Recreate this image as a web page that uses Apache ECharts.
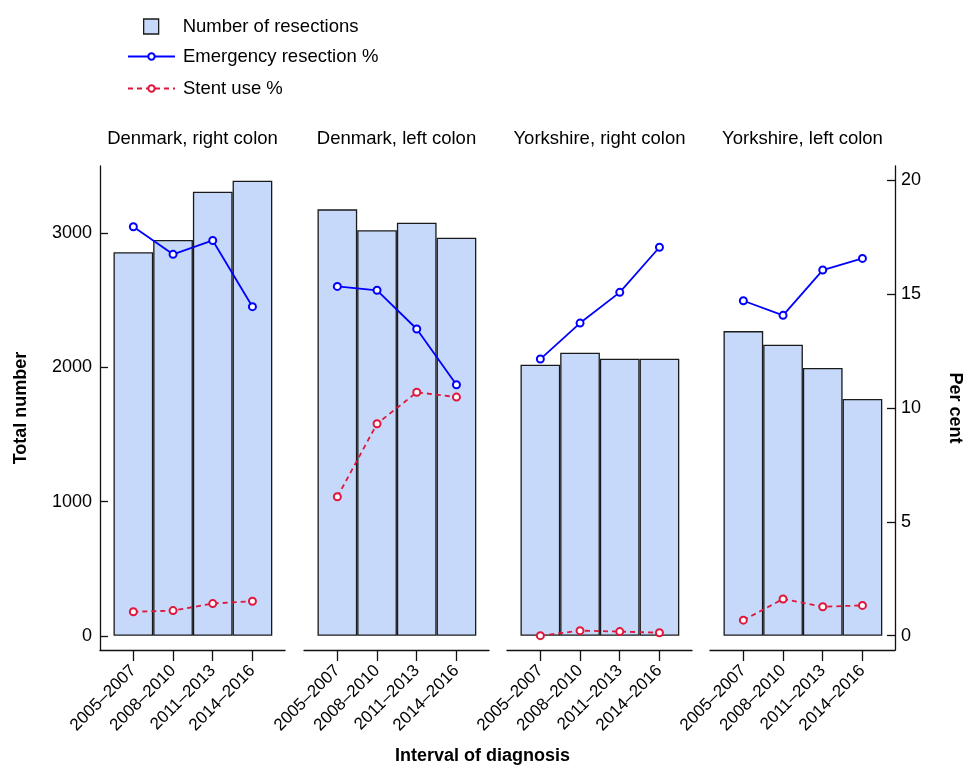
<!DOCTYPE html>
<html>
<head>
<meta charset="utf-8">
<script src="https://cdn.jsdelivr.net/npm/echarts@6/dist/echarts.min.js"></script>
<style>
html,body{margin:0;padding:0;background:#fff;}
#chart{width:965px;height:769px;}
</style>
</head>
<body>
<div id="chart"></div>
<script>
// ---- data ----
const intervals = ['2005–2007', '2008–2010', '2011–2013', '2014–2016'];
const panelTitles = ['Denmark, right colon', 'Denmark, left colon', 'Yorkshire, right colon', 'Yorkshire, left colon'];
const resectionsDenmarkRight = [2857, 2949, 3309, 3391];
const resectionsDenmarkLeft = [3177, 3021, 3077, 2966];
const resectionsYorkshireRight = [2019, 2109, 2064, 2064];
const resectionsYorkshireLeft = [2270, 2168, 1995, 1764];
const emergencyDenmarkRight = [17.96, 16.75, 17.36, 14.45];
const emergencyDenmarkLeft = [15.34, 15.17, 13.47, 11.02];
const emergencyYorkshireRight = [12.15, 13.73, 15.08, 17.06];
const emergencyYorkshireLeft = [14.71, 14.07, 16.06, 16.57];
const stentDenmarkRight = [1.05, 1.10, 1.41, 1.51];
const stentDenmarkLeft = [6.10, 9.31, 10.69, 10.48];
const stentYorkshireRight = [0.00, 0.22, 0.18, 0.13];
const stentYorkshireLeft = [0.68, 1.61, 1.27, 1.33];
const countTicks = [0, 1000, 2000, 3000];
const percentTicks = [0, 5, 10, 15, 20];
const seriesNames = ['Number of resections', 'Emergency resection %', 'Stent use %'];

const resections = [resectionsDenmarkRight, resectionsDenmarkLeft, resectionsYorkshireRight, resectionsYorkshireLeft];
const emergency = [emergencyDenmarkRight, emergencyDenmarkLeft, emergencyYorkshireRight, emergencyYorkshireLeft];
const stent = [stentDenmarkRight, stentDenmarkLeft, stentYorkshireRight, stentYorkshireLeft];

// ---- layout / style ----
const FONT = 'Liberation Sans, Arial, Helvetica, sans-serif';
const gridLefts = [100, 304, 507, 710];
const gridWidth = 185;
const gridTop = 166;
const gridHeight = 484;
const barFill = '#c6d9fa';
const blue = '#0000ff';
const red = '#e0173c';
const axisColor = '#111';
const toXY = arr => arr.map((v, i) => [i, v]);

const grids = [], xAxes = [], yAxes = [], series = [], graphics = [];
panelTitles.forEach((t, p) => {
  grids.push({left: gridLefts[p], top: gridTop, width: gridWidth, height: gridHeight, containLabel: false});
  xAxes.push({
    type: 'value', gridIndex: p, min: -0.84, max: 3.82,
    axisLine: {show: true, onZero: false, lineStyle: {color: axisColor, width: 1.3}},
    axisTick: {show: true, inside: false, length: 11, customValues: [0, 1, 2, 3], lineStyle: {color: axisColor, width: 1.3}},
    axisLabel: {show: true, customValues: [0, 1, 2, 3], rotate: 45, margin: 18, fontSize: 17, color: '#000', fontFamily: FONT,
      padding: [0, 0, 0, 0],
      formatter: v => intervals[Math.round(v)]},
    splitLine: {show: false}
  });
  yAxes.push({
    type: 'value', gridIndex: p, position: 'left', min: -106, max: 3500, show: p === 0,
    name: p === 0 ? 'Total number' : '', nameLocation: 'middle', nameGap: 70,
    nameTextStyle: {fontSize: 18, fontWeight: 'bold', color: '#000', fontFamily: FONT},
    axisLine: {show: true, onZero: false, lineStyle: {color: axisColor, width: 1.3}},
    axisTick: {show: true, inside: true, length: 8, customValues: countTicks, lineStyle: {color: axisColor, width: 1.3}},
    axisLabel: {customValues: countTicks, margin: 8, fontSize: 18, color: '#000', fontFamily: FONT, formatter: v => String(v)},
    splitLine: {show: false}
  });
  yAxes.push({
    type: 'value', gridIndex: p, position: 'right', min: -0.63, max: 20.63, show: p === 3,
    name: p === 3 ? 'Per cent' : '', nameLocation: 'middle', nameGap: 51, nameRotate: -90,
    nameTextStyle: {fontSize: 18, fontWeight: 'bold', color: '#000', fontFamily: FONT},
    axisLine: {show: true, onZero: false, lineStyle: {color: axisColor, width: 1.3}},
    axisTick: {show: true, inside: true, length: 8, customValues: percentTicks, lineStyle: {color: axisColor, width: 1.3}},
    axisLabel: {customValues: percentTicks, margin: 6, fontSize: 18, color: '#000', fontFamily: FONT, formatter: v => String(v)},
    splitLine: {show: false}
  });
  series.push({
    name: seriesNames[0], type: 'bar', xAxisIndex: p, yAxisIndex: 2 * p,
    data: toXY(resections[p]), barCategoryGap: '0%', barGap: '0%',
    itemStyle: {color: barFill, borderColor: '#1a1a1a', borderWidth: 1.3},
    silent: true
  });
  series.push({
    name: seriesNames[1], type: 'line', xAxisIndex: p, yAxisIndex: 2 * p + 1,
    data: toXY(emergency[p]), color: blue, symbol: 'emptyCircle', symbolSize: 7,
    lineStyle: {color: blue, width: 1.8}, itemStyle: {color: blue, borderWidth: 1.5},
    silent: true, z: 3
  });
  series.push({
    name: seriesNames[2], type: 'line', xAxisIndex: p, yAxisIndex: 2 * p + 1,
    data: toXY(stent[p]), color: red, symbol: 'emptyCircle', symbolSize: 7,
    lineStyle: {color: red, width: 1.8, type: [5, 4]}, itemStyle: {color: red, borderWidth: 1.5},
    silent: true, z: 3
  });
  graphics.push({
    type: 'text', x: gridLefts[p] + gridWidth / 2, y: 139,
    style: {text: t, font: '18.5px ' + FONT, fill: '#000', textAlign: 'center', textVerticalAlign: 'middle', align: 'center', verticalAlign: 'middle'}
  });
});
graphics.push({
  type: 'text', x: 482.5, y: 756,
  style: {text: 'Interval of diagnosis', font: 'bold 18px ' + FONT, fill: '#000', textAlign: 'center', textVerticalAlign: 'middle', align: 'center', verticalAlign: 'middle'}
});

const option = {
  animation: false,
  textStyle: {fontFamily: FONT},
  grid: grids,
  xAxis: xAxes,
  yAxis: yAxes,
  series: series,
  legend: [
    {
      data: [{name: seriesNames[0], icon: 'path://M0,0H10V10H0Z'}],
      orient: 'vertical', left: 143, top: 17, padding: 0,
      itemWidth: 47, itemHeight: 15, selectedMode: false,
      itemStyle: {borderWidth: 1.3, borderColor: '#1a1a1a'},
      textStyle: {fontSize: 18.5, color: '#000', fontFamily: FONT, padding: [0, 0, 0, 3]}
    },
    {
      data: [seriesNames[1], seriesNames[2]],
      orient: 'vertical', left: 127, top: 47, padding: 0, itemGap: 13,
      itemWidth: 47, itemHeight: 8, selectedMode: false,
      textStyle: {fontSize: 18.5, color: '#000', fontFamily: FONT, padding: [0, 0, 0, 3]}
    }
  ],
  graphic: graphics
};
const chart = echarts.init(document.getElementById('chart'), null, {renderer: 'canvas'});
chart.setOption(option);
</script>
</body>
</html>
